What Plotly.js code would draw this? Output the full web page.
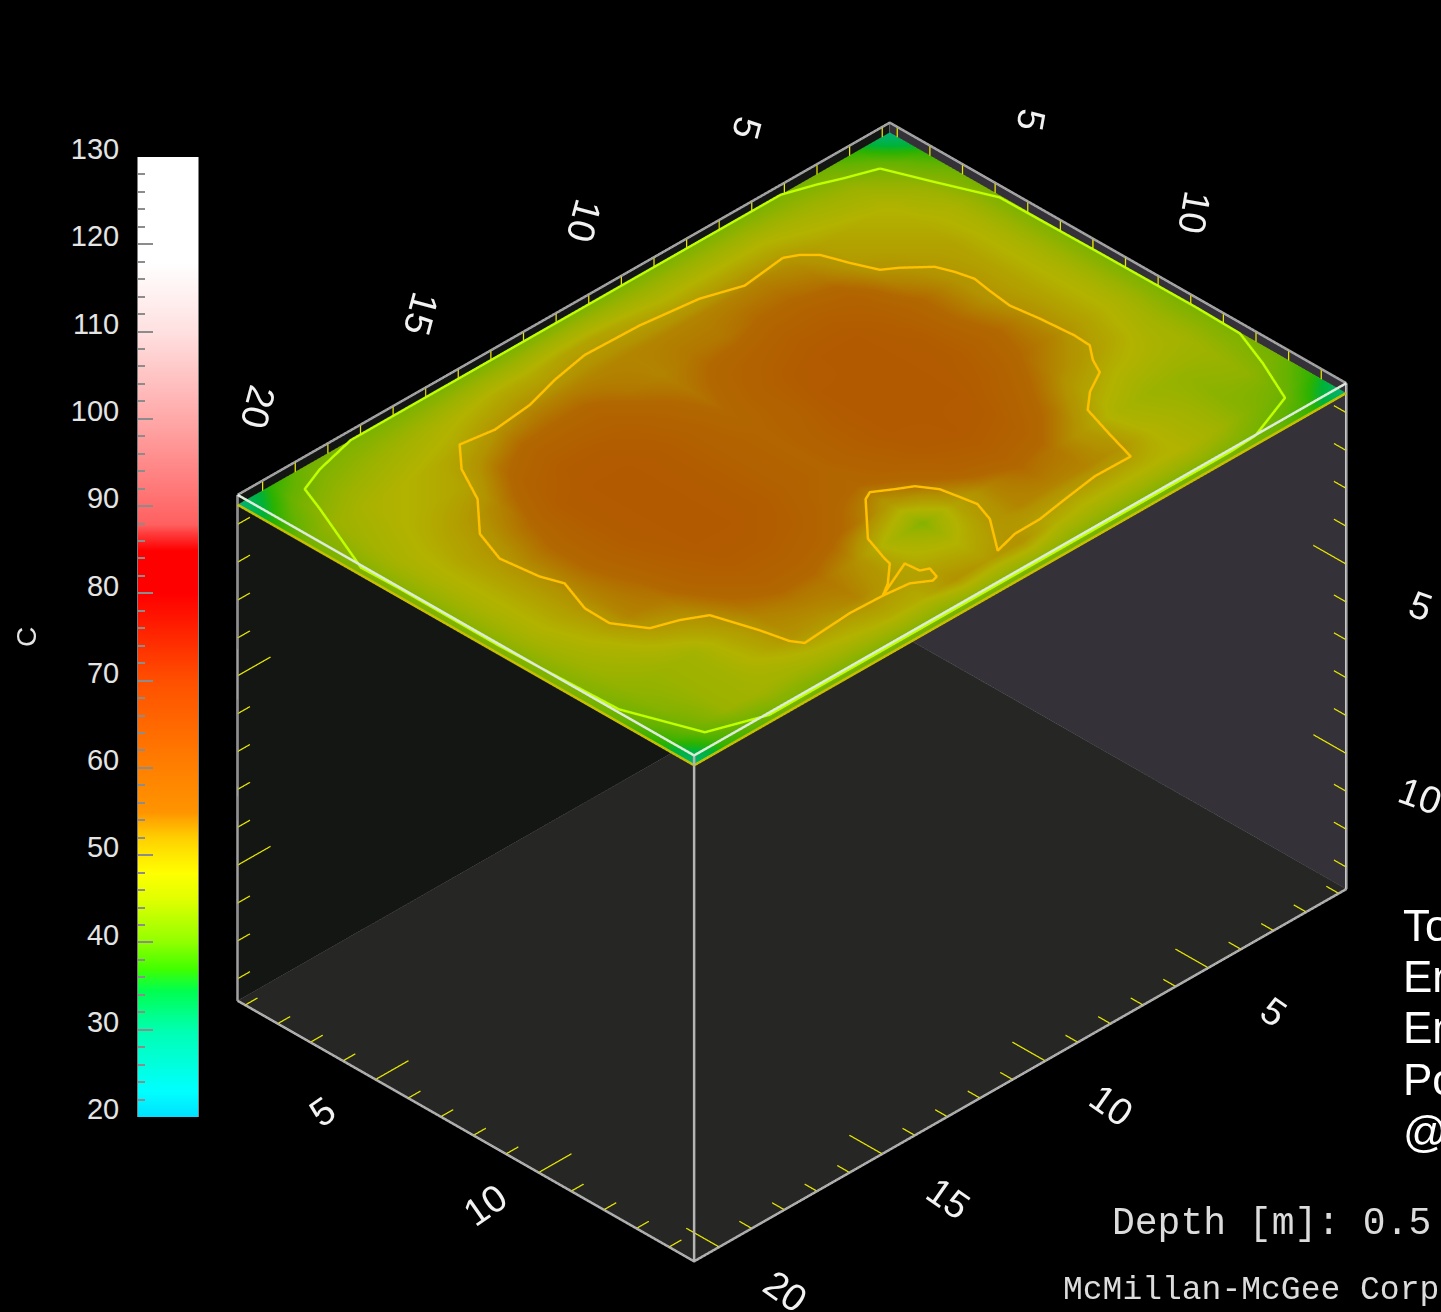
<!DOCTYPE html>
<html><head><meta charset="utf-8">
<script src="https://cdn.plot.ly/plotly-3.0.1.min.js"></script>
<style>html,body{margin:0;padding:0;background:#000;overflow:hidden}</style>
</head><body><div id="plot" style="width:1441px;height:1312px"></div>
<script>
// Temperature on the plane at depth 0.5 m (rows: x 0..20, columns: y 0..14)
const temperature = [
[30,37,41,42,42,42,42,42,42,42,42,42,41,37,30],
[37,42,45,47,47,47,47,47,47,46,46,45,44,41,37],
[41,45,48,49,50,50,50,50,50,49,47,44.5,43.5,43,40],
[42,46,49,50,51,52,52,53,53,51,48,45,46,46,41],
[42,47,50,51,53,55,55,56,55,53,50,47,48,48,41],
[42,48,52,54,57,58,59,59,58,56,54,51,52,48,41],
[42,48,53,55,58,60,60,60,60,59,57,54,53,48,41],
[42,48,53,55,58,60,60,60,60,60,58,55,53,48,41],
[42,48,53,54,57,59,60,60,60,59,57,53,53,49,41],
[42,49,53,54,56,57,57,58,58,57,54,50,51,52,41],
[42,50,53,53,54,55,56,56,56,55,51,43,48,51,41],
[42,50,53,54,56,57,57,57,57,56,54,47,49,52,41],
[42,49,53,56,58,59,59,59,59,58,56,52,51,49,41],
[42,49,53,56,59,60,60,60,60,59,57,54,53,49,41],
[42,48,52,56,59,60,60,60,60,59,57,54,52,48,41],
[42,47,50,54,57,59,59,59,58,57,55,53,52,47,41],
[42,46,49,50,53,55,56,56,55,54,52,50,49,46,41],
[42,45,48,49,51,52,53,53,53,53,50,46,46,46,41],
[41,44,47,48,49,50,50,50,50,49,47,45,45,45,39],
[37,42,45,46,47,47,47,47,47,46,45,44,43,41,37],
[30,36,41,42,42,42,42,42,42,42,42,41,39,36,30]];
const gridX = [0,1,2,3,4,5,6,7,8,9,10,11,12,13,14,15,16,17,18,19,20];
const gridY = [0,1,2,3,4,5,6,7,8,9,10,11,12,13,14];

// Isotherm traced on the plane, about 52 C
const innerX = [5.16,4.82,4.51,4.39,4.27,3.99,3.63,3.07,2.9,2.78,2.87,2.96,2.85,2.77,2.8,3.15,3.37,4.05,4.57,4.89,5.16,6.24,7.32,8.24,9.02,9.73,9.0,8.79,8.87,8.97,9.27,9.66,10.12,10.37,11.4,11.68,11.73,12.3,12.69,11.5,11.46,11.25,11.36,11.53,11.96,12.68,13.68,15.17,15.35,15.52,15.88,16.47,17.15,17.63,17.61,17.25,17.45,17.58,17.22,16.32,15.76,15.13,14.19,12.98,11.94,10.81,9.17,7.53,6.49,5.16];
const innerY = [1.88,2.06,2.37,2.7,3.04,3.69,3.94,4.45,4.89,5.38,5.93,6.64,7.45,8.44,8.93,9.38,9.81,10.19,10.64,11.64,12.55,12.53,12.69,12.84,12.85,13.04,12.07,11.48,11.02,10.5,10.04,9.81,9.51,9.63,10.73,11.53,11.73,12.24,12.48,11.96,12.38,12.48,12.8,12.85,12.57,12.49,12.45,12.56,12.28,11.53,10.36,10.03,9.79,9.04,8.26,7.28,6.71,5.62,4.65,3.68,2.63,1.94,2.08,1.95,1.66,1.45,1.5,1.7,2.04,1.88];
// Isotherm traced on the plane, about 42 C
const outerX = [1.27,0.81,0.21,0.17,0.05,0.18,0.63,1.22,2.69,3.5,7.8,12.4,17.65,19.1,19.8,19.93,19.92,19.95,19.0,18.7,17.94,16.68,11.98,7.3,3.5,2.67,2.1,1.27];
const outerY = [0.97,2.13,3.58,6.6,9.55,10.92,12.07,13.34,13.9,13.95,13.95,13.95,13.95,13.43,11.5,7.96,4.88,3.74,1.52,0.76,0.46,0.12,0.06,0.05,0.13,0.43,0.67,0.97];

// Colour table of the legend
const scaleValues = [20,23,30,34.5,37,40,45,48,52,55,60,70,80,85,88,100,110,118,130];
const scaleColors = ['#00e0ff','#00ffff','#00ffb0','#00ff50','#40ff00','#90ff00','#e0ff00','#ffff00','#ffd000','#ff9400','#ff8000','#ff5000','#ff0000','#ff0000','#ff6060','#ffa8a8','#ffe0e0','#ffffff','#ffffff'];

// Axis ticks and labels
const xTickValues = [1,2,3,4,5,6,7,8,9,10,11,12,13,14,15,16,17,18,19,20];
const yTickValues = [1,2,3,4,5,6,7,8,9,10,11,12,13,14];
const depthTickValues = [1,2,3,4,5,6,7,8,9,10,11,12,13];
const xLabels = [5,10,15,20];
const yLabels = [5,10];
const depthLabels = [5,10];

// Box limits
const xMin = 0.75, xMax = 20.75, yMin = 0.75, yMax = 14.75, zTop = -0.24, zBottom = -13.6, zPlane = -0.5;
const gridOrigin = 0.75, traceOrigin = 0.62, rangePad = 1;
const viewScale = 0.0703;

const clampX = v => Math.min(xMax - 0.02, Math.max(xMin + 0.02, v + traceOrigin));
const clampY = v => Math.min(yMax - 0.02, Math.max(yMin + 0.02, v + traceOrigin));
const cs = scaleValues.map((v, i) => [(v - 20) / 110, scaleColors[i]]);

function line(xs, ys, zs, color, width) {
  return {type:'scatter3d', mode:'lines', x:xs, y:ys, z:zs, line:{color:color, width:width}, hoverinfo:'skip', showlegend:false};
}
function wall(xs, ys, zs, color) {
  return {type:'surface', x:xs, y:ys, z:zs, surfacecolor:zs.map(r => r.map(() => 0)), colorscale:[[0,color],[1,color]], cmin:0, cmax:1,
    showscale:false, lighting:{ambient:1, diffuse:0, specular:0, roughness:1, fresnel:0}, hoverinfo:'skip'};
}
function ticks(values, fn) {
  const out = [];
  values.forEach(v => {
    const major = v % 5 === 0;
    const [p, q] = fn(v, major ? 1 : 0.37);
    out.push(line([p[0],q[0]],[p[1],q[1]],[p[2],q[2]],'#e6e600',5));
  });
  return out;
}

const traces = [];
// walls and floor
traces.push(wall([[xMin,xMax],[xMin,xMax]],[[yMin,yMin],[yMin,yMin]],[[zTop,zTop],[zBottom,zBottom]],'#141614'));
traces.push(wall([[xMin,xMin],[xMin,xMin]],[[yMin,yMax],[yMin,yMax]],[[zTop,zTop],[zBottom,zBottom]],'#343238'));
traces.push(wall([[xMin,xMax],[xMin,xMax]],[[yMin,yMin],[yMax,yMax]],[[zBottom,zBottom],[zBottom,zBottom]],'#262724'));
// temperature plane
traces.push({type:'surface', x:gridX.map(v => v + gridOrigin), y:gridY.map(v => v + gridOrigin),
  z:gridY.map(() => gridX.map(() => zPlane)), surfacecolor:gridY.map((_, j) => gridX.map((_, i) => temperature[i][j])),
  colorscale:cs, cmin:20, cmax:130, showscale:false, hoverinfo:'skip',
  lighting:{ambient:0.7, diffuse:0, specular:0, roughness:1, fresnel:0}});

// plane outline
traces.push(line([xMin,xMax,xMax,xMin,xMin],[yMin,yMin,yMax,yMax,yMin],[zPlane,zPlane,zPlane,zPlane,zPlane],'#c8c000',5));
// isotherms
traces.push(line(innerX.map(clampX), innerY.map(clampY), innerX.map(() => zPlane + 0.02), '#ffc000', 5));
traces.push(line(outerX.map(clampX), outerY.map(clampY), outerX.map(() => zPlane + 0.02), '#c0ff00', 5));
// box edges
traces.push(line([xMax,xMin,xMin],[yMin,yMin,yMax],[zTop,zTop,zTop],'#a8a8a8',5));
traces.push(line([xMax,xMax,xMin],[yMin,yMax,yMax],[zTop,zTop,zTop],'#dcebdc',5));
traces.push(line([xMax,xMax,xMin,xMin,xMax],[yMin,yMax,yMax,yMin,yMin],[zBottom,zBottom,zBottom,zBottom,zBottom],'#b4b4b4',5));
traces.push(line([xMax,xMax],[yMin,yMin],[zTop,zBottom],'#a0a0a0',5));
traces.push(line([xMax,xMax],[yMax,yMax],[zTop,zBottom],'#b4b4b4',5));
traces.push(line([xMin,xMin],[yMax,yMax],[zTop,zBottom],'#c8c8c8',5));
traces.push(line([xMin,xMin],[yMin,yMin],[zTop,zBottom],'#a8a8a8',5));
// ticks on floor edges
traces.push(...ticks(yTickValues,(v,l)=>[[xMax,v,zBottom],[xMax-l,v,zBottom]]));
traces.push(...ticks(xTickValues,(v,l)=>[[v,yMax,zBottom],[v,yMax-l,zBottom]]));
// ticks on vertical edges
traces.push(...ticks(depthTickValues,(v,l)=>[[xMax,yMin,-v],[xMax-l,yMin,-v]]));
traces.push(...ticks(depthTickValues,(v,l)=>[[xMin,yMax,-v],[xMin,yMax-l,-v]]));
// ticks on top edges
traces.push(...ticks(xTickValues,(v,l)=>[[v,yMin,zTop],[v,yMin,zPlane]]));
traces.push(...ticks(yTickValues,(v,l)=>[[xMin,v,zTop],[xMin,v,zPlane]]));

// legend bar
const legendLevels = [];
for (let v = 20; v <= 130; v++) legendLevels.push(v);
traces.push({type:'heatmap', x:[0,1], y:legendLevels, z:legendLevels.map(v => [v,v]), colorscale:cs, zmin:20, zmax:130,
  zsmooth:'best', showscale:false, hoverinfo:'skip', xaxis:'x', yaxis:'y'});

const tickFont = {family:'"Liberation Sans", Arial, sans-serif', size:29, color:'#e4e4e4'};
const axisFont = {family:'"Liberation Sans", Arial, sans-serif', size:38, color:'#f2f2f2'};
const sceneAnn = (x,y,z,text,angle,xs,ys) => ({x:x,y:y,z:z,text:String(text),textangle:angle,showarrow:false,xshift:xs,yshift:ys,
  font:axisFont, xanchor:'center', yanchor:'middle'});
const annotations3d = [];
xLabels.forEach(v => annotations3d.push(sceneAnn(v,yMin,zTop,v,105,-4,74)));
yLabels.forEach(v => annotations3d.push(sceneAnn(xMin,v,zTop,v,100,3,82)));
xLabels.forEach(v => annotations3d.push(sceneAnn(v,yMax,zBottom,v,35,66,-44)));
yLabels.forEach(v => annotations3d.push(sceneAnn(xMax,v,zBottom,v,-35,-54,-32)));
depthLabels.forEach(v => annotations3d.push(sceneAnn(xMin,yMax,-v,v,20,74,-43)));

const sideFont = {family:'"Liberation Sans", Arial, sans-serif', size:44, color:'#ffffff'};
const px = (x,y,text,font) => ({xref:'paper',yref:'paper',x:x/1441,y:1-y/1312,text:text,showarrow:false,xanchor:'left',yanchor:'middle',font:font});
const paperAnn = [
  px(1401,925,'To',sideFont), px(1401,976,'En',sideFont), px(1401,1027,'En',sideFont), px(1401,1079,'Po',sideFont), px(1401,1131,'@',sideFont),
  px(1110,1223,'Depth [m]: 0.5',{family:'"Liberation Mono", monospace',size:38,color:'#dcdcdc'}),
  px(1061,1290,'McMillan-McGee Corp',{family:'"Liberation Mono", monospace',size:33,color:'#dcdcdc'})
];

const centerOffset = {x:0.009, y:-0.145, z:0};
const eyeDistance = 1.054;
const layout = {
  width:1441, height:1312, margin:{l:0,r:0,t:0,b:0}, paper_bgcolor:'#000', plot_bgcolor:'#000', showlegend:false, hovermode:false,
  xaxis:{domain:[138/1441,198/1441], range:[0,1], visible:false, fixedrange:true},
  yaxis:{domain:[1-1117/1312,1-157/1312], range:[20,130], anchor:'x', fixedrange:true, side:'left',
    tick0:20, dtick:10, ticks:'inside', ticklen:15, tickcolor:'#8c8c8c', tickwidth:2, showgrid:false, zeroline:false,
    showline:true, mirror:true, linecolor:'#808080', linewidth:1, tickfont:tickFont, ticklabelstandoff:12, ticklabelshift:-8,
    minor:{dtick:2, ticks:'inside', ticklen:7, tickcolor:'#8c8c8c', tickwidth:2, showgrid:false},
    title:{text:'C', font:{family:'"Liberation Sans", Arial, sans-serif', size:28, color:'#e4e4e4'}, standoff:26}},
  scene:{domain:{x:[0,1], y:[0,1]}, bgcolor:'rgba(0,0,0,0)', dragmode:false,
    aspectmode:'manual', aspectratio:{x:(xMax-xMin+2*rangePad)*viewScale, y:(yMax-yMin+2*rangePad)*viewScale, z:(zTop-zBottom+2*rangePad)*viewScale},
    xaxis:{visible:false, range:[xMin-rangePad,xMax+rangePad]}, yaxis:{visible:false, range:[yMin-rangePad,yMax+rangePad]}, zaxis:{visible:false, range:[zBottom-rangePad,zTop+rangePad]},
    camera:{projection:{type:'orthographic'}, up:{x:0,y:0,z:1}, center:centerOffset,
      eye:{x:eyeDistance+centerOffset.x, y:eyeDistance+centerOffset.y, z:eyeDistance*0.983+centerOffset.z}},
    annotations:annotations3d},
  annotations:paperAnn
};
Plotly.newPlot('plot', traces, layout, {displayModeBar:false});
</script>
</body></html>
